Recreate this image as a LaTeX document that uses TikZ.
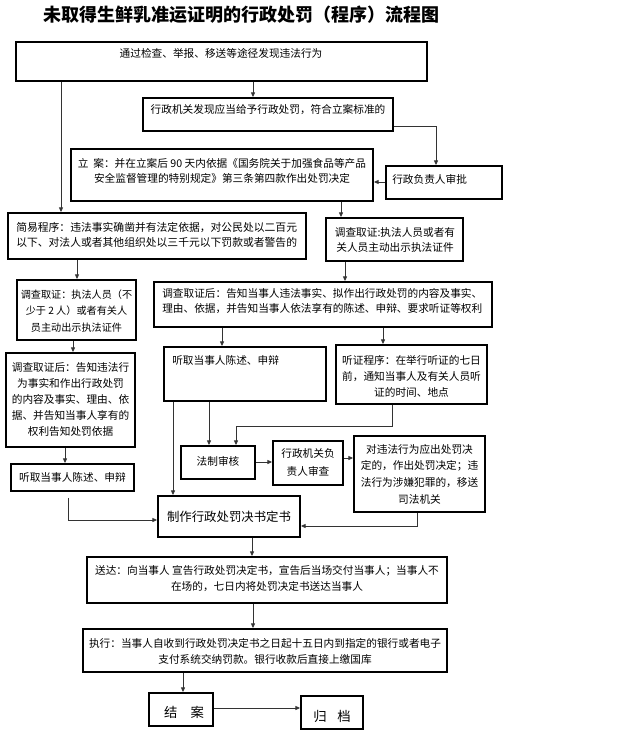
\documentclass[tikz,border=0pt]{standalone}
\usepackage{fontspec}
\setmainfont{Noto Sans CJK SC}
\usetikzlibrary{arrows.meta,fit,calc}
\begin{document}
\begin{tikzpicture}[x=0.75pt,y=-0.75pt,
  box/.style={draw=black,line width=1.4pt,inner sep=0pt},
  txt/.style={font=\fontsize{8}{12}\selectfont,inner sep=0pt},
  conn/.style={draw=black!80,line width=0.6pt},
  arr/.style={conn,-{Triangle[length=3.5pt,width=3pt]}},
]
\useasboundingbox[fill=white] (0,0) rectangle (628,738);

\node[font=\bfseries\fontsize{13.5}{16}\selectfont,inner sep=0pt] (title) at (241,15) {未取得生鲜乳准运证明的行政处罚（程序）流程图};

\node[box,fit={(16,42)(427,81)}] (b1) {};
\node[txt] (b1t) at (221,53) {通过检查、举报、移送等途径发现违法行为};

\node[box,fit={(143,98)(393,131)}] (b2) {};
\node[txt] (b2t) at (268,110) {行政机关发现应当给予行政处罚，符合立案标准的};

\node[box,fit={(71,149)(373,201)}] (la) {};
\node[txt,align=center,font=\fontsize{8}{11.25}\selectfont] (lat) at (222,170.5) {立\ \ 案：并在立案后 90 天内依据《国务院关于加强食品等产品\\安全监督管理的特别规定》第三条第四款作出处罚决定};

\node[box,fit={(386,166)(502,199)}] (sp) {};
\node[txt,anchor=west] (spt) at (392,179) {行政负责人审批};

\node[box,fit={(8,213)(306,259)}] (jy) {};
\node[txt,anchor=west,align=left,font=\fontsize{8.1}{11.25}\selectfont] (jyt) at (16,234.5) {简易程序：违法事实确凿并有法定依据，对公民处以二百元\\以下、对法人或者其他组织处以三千元以下罚款或者警告的};

\node[box,fit={(326,218)(463,261)}] (dc) {};
\node[txt,align=center,font=\fontsize{8}{11.25}\selectfont] (dct) at (395,239.5) {调查取证:执法人员或者有\\关人员主动出示执法证件};

\node[box,fit={(17,280)(136,340)}] (dl) {};
\node[txt,align=center,font=\fontsize{7.6}{12.4}\selectfont] (dlt) at (76.5,311) {调查取证：执法人员（不\\少于 2 人）或者有关人\\员主动出示执法证件};

\node[box,fit={(154,282)(492,327)}] (dh) {};
\node[txt,anchor=west,align=left,font=\fontsize{8}{11.25}\selectfont] (dht) at (162,301.5) {调查取证后：告知当事人违法事实、拟作出行政处罚的内容及事实、\\理由、依据，并告知当事人依法享有的陈述、申辩、要求听证等权利};

\node[box,fit={(6,353)(135,447)}] (dhl) {};
\node[txt,align=center] (dhlt) at (70.5,399.5) {调查取证后：告知违法行\\为事实和作出行政处罚\\的内容及事实、理由、依\\据、并告知当事人享有的\\权利告知处罚依据};

\node[box,fit={(164,347)(326,401)}] (tq) {};
\node[txt,anchor=west] (tqt) at (172,360) {听取当事人陈述、申辩};

\node[box,fit={(336,345)(487,404)}] (tz) {};
\node[txt,align=center] (tzt) at (411.5,376) {听证程序：在举行听证的七日\\前，通知当事人及有关人员听\\证的时间、地点};

\node[box,fit={(181,446)(255,479)}] (fz) {};
\node[txt] (fzt) at (218,461.5) {法制审核};

\node[box,fit={(273,441)(343,485)}] (sc) {};
\node[txt,align=center,font=\fontsize{8}{13.5}\selectfont] (sct) at (308,462) {行政机关负\\责人审查};

\node[box,fit={(354,436)(485,512)}] (dw) {};
\node[txt,align=center,font=\fontsize{8}{12.5}\selectfont] (dwt) at (419.5,474) {对违法行为应出处罚决\\定的，作出处罚决定；违\\法行为涉嫌犯罪的，移送\\司法机关};

\node[box,fit={(11,464)(134,491)}] (tl) {};
\node[txt] (tlt) at (72.5,477.5) {听取当事人陈述、申辩};

\node[box,fit={(158,496)(300,537)}] (zz) {};
\node[txt,font=\fontsize{9.3}{12}\selectfont] (zzt) at (229,517) {制作行政处罚决书定书};

\node[box,fit={(87,557)(447,603)}] (sd) {};
\node[txt,align=center] (sdt) at (267,579) {送达：向当事人 宣告行政处罚决定书，宣告后当场交付当事人；当事人不\\在场的，七日内将处罚决定书送达当事人};

\node[box,fit={(83,629)(447,672)}] (zx) {};
\node[txt,align=center] (zxt) at (265,651) {执行：当事人自收到行政处罚决定书之日起十五日内到指定的银行或者电子\\支付系统交纳罚款。银行收款后直接上缴国库};

\node[box,fit={(149,693)(213,726)}] (ja) {};
\node[txt,font=\fontsize{10}{12}\selectfont] (jat) at (184,712) {结\hspace{1em}案};
\node[box,fit={(301,696)(363,729)}] (gd) {};
\node[txt,font=\fontsize{10}{12}\selectfont] (gdt) at (332,716) {归\hspace{0.8em}档};

% connectors
\draw[arr] (253,0 |- b1.south) -- (253,0 |- b2.north);
\draw[arr] (61,0 |- b1.south) -- (61,0 |- jy.north);
\draw[arr] (b2.east |- 0,126) -| (436,0 |- sp.north);
\draw[arr] (sp.west |- 0,182) -- (la.east |- 0,182);
\draw[arr] (341,0 |- la.south) -- (341,0 |- dc.north);
\draw[arr] (77,0 |- jy.south) -- (77,0 |- dl.north);
\draw[arr] (345,0 |- dc.south) -- (345,0 |- dh.north);
\draw[arr] (73,0 |- dl.south) -- (73,0 |- dhl.north);
\draw[arr] (222,0 |- dh.south) -- (222,0 |- tq.north);
\draw[arr] (383,0 |- dh.south) -- (383,0 |- tz.north);
\draw[arr] (173,0 |- tq.south) -- (173,0 |- zz.north);
\draw[arr] (209,0 |- tq.south) -- (209,0 |- fz.north);
\draw[arr] (392,0 |- tz.south) -- (392,426) -| (236,0 |- fz.north);
\draw[arr] (fz.east |- 0,462) -- (sc.west |- 0,462);
\draw[arr] (sc.east |- 0,458) -- (dw.west |- 0,458);
\draw[arr] (417,0 |- dw.south) |- (zz.east |- 0,526);
\draw[arr] (65,0 |- dhl.south) -- (65,0 |- tl.north);
\draw[arr] ($(68,0 |- tl.south)+(0,6)$) |- (zz.west |- 0,520);
\draw[arr] (252,0 |- zz.south) -- (252,0 |- sd.north);
\draw[arr] (253,0 |- sd.south) -- (253,0 |- zx.north);
\draw[arr] (183,0 |- zx.south) -- (183,0 |- ja.north);
\draw[arr] (ja.east |- 0,708) -- (gd.west |- 0,708);
\end{tikzpicture}
\end{document}
